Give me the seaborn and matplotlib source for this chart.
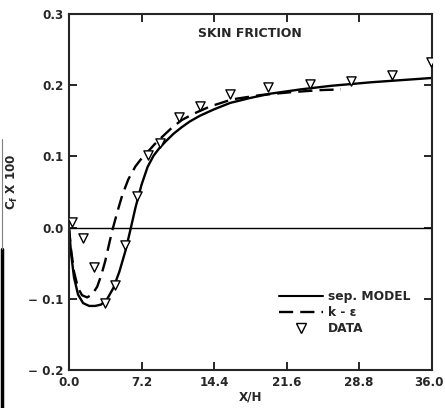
import numpy as np
import pandas as pd
import matplotlib
matplotlib.use("Agg")
import matplotlib.pyplot as plt
import matplotlib.transforms as mtransforms
from matplotlib.lines import Line2D
import seaborn as sns

# ---- data ----
sep_x = [0, 0.2, 0.5, 0.9, 1.4, 2.0, 2.6, 3.2, 3.8, 4.4, 5.0, 5.6, 6.1, 6.6,
         7.2, 7.8, 8.4, 9.0, 9.6, 10.4, 11.2, 12.0, 13.0, 14.4, 16.0, 18.0,
         20.0, 23.0, 26.0, 30.0, 33.0, 36.0]
sep_y = [0.0, -0.035, -0.070, -0.094, -0.106, -0.110, -0.110, -0.108, -0.100,
         -0.085, -0.062, -0.033, -0.003, 0.028, 0.060, 0.085, 0.101, 0.112,
         0.121, 0.132, 0.141, 0.149, 0.157, 0.166, 0.175, 0.182, 0.188, 0.194,
         0.199, 0.204, 0.207, 0.210]

keps_x = [0, 0.2, 0.5, 0.9, 1.3, 1.8, 2.3, 2.8, 3.2, 3.6, 4.0, 4.3, 4.8, 5.3,
          5.9, 6.6, 7.2, 7.8, 8.5, 9.3, 10.2, 11.2, 12.4, 14.0, 16.2, 19.0,
          22.0, 25.0, 27.0]
keps_y = [0.0, -0.03, -0.062, -0.085, -0.095, -0.098, -0.094, -0.083, -0.067,
          -0.047, -0.022, -0.004, 0.022, 0.046, 0.068, 0.086, 0.097, 0.106,
          0.117, 0.128, 0.140, 0.151, 0.160, 0.170, 0.180, 0.186, 0.190,
          0.193, 0.194]

data_x = [0.27, 1.4, 2.5, 3.6, 4.6, 5.6, 6.8, 7.8, 9.0, 10.9, 13.0, 16.0,
          19.8, 23.9, 28.0, 32.1, 35.9]
data_y = [0.008, -0.014, -0.056, -0.106, -0.081, -0.024, 0.045, 0.102, 0.119,
          0.155, 0.171, 0.188, 0.198, 0.202, 0.206, 0.214, 0.233]

xticks = [0.0, 7.2, 14.4, 21.6, 28.8, 36.0]
xtick_labels = ["0.0", "7.2", "14.4", "21.6", "28.8", "36.0"]
yticks = [-0.2, -0.1, 0.0, 0.1, 0.2, 0.3]
ytick_labels = ["\u2212 0.2", "\u2212 0.1", "0.0", "0.1", "0.2", "0.3"]

legend_labels = ["sep. MODEL", "k - \u03b5", "DATA"]

# ---- plot ----
sns.set_style("ticks")
plt.rcParams["font.family"] = ["DejaVu Sans"]
plt.rcParams["font.weight"] = "bold"
plt.rcParams["mathtext.default"] = "bf"

FS = 8.6

fig = plt.figure(figsize=(4.45, 4.08), dpi=100)
ax = fig.add_axes([0.155, 0.093, 0.815, 0.873])

sep_df = pd.DataFrame({"x": sep_x, "y": sep_y})
keps_df = pd.DataFrame({"x": keps_x, "y": keps_y})
data_df = pd.DataFrame({"x": data_x, "y": data_y})

ax.axhline(0.0, color="black", lw=1.0, zorder=1)
sns.lineplot(data=sep_df, x="x", y="y", ax=ax, color="black", lw=1.7,
             sort=False, estimator=None, legend=False)
sns.lineplot(data=keps_df, x="x", y="y", ax=ax, color="black", lw=1.7,
             sort=False, estimator=None, legend=False)
ax.lines[-1].set_dashes([6, 3])
sns.scatterplot(data=data_df, x="x", y="y", ax=ax, marker="v", s=44,
                facecolor="white", edgecolor="black", linewidth=1.0,
                zorder=5, legend=False)

ax.set_xlim(0, 36)
ax.set_ylim(-0.2, 0.3)
ax.set_xticks(xticks)
ax.set_xticklabels(xtick_labels, fontsize=FS, fontweight="bold")
ax.set_yticks(yticks)
ax.set_yticklabels(ytick_labels, fontsize=FS, fontweight="bold")
ax.tick_params(direction="in", length=6, width=1.4, top=True, right=True,
               pad=4)
for s in ax.spines.values():
    s.set_linewidth(1.5)
    s.set_visible(True)
# nudge the last x tick label so it stays inside the canvas
last = ax.get_xticklabels()[-1]
last.set_transform(last.get_transform() +
                   mtransforms.ScaledTranslation(-3 / 100, 0,
                                                 fig.dpi_scale_trans))

ax.set_xlabel("X/H", fontsize=FS, fontweight="bold", labelpad=1)
ax.set_ylabel(r"C$_f$ X 100", fontsize=FS, fontweight="bold")
ax.yaxis.set_label_coords(-0.135, 0.53)

ax.text(18.0, 0.273, "SKIN FRICTION", ha="center", va="center",
        fontsize=9, fontweight="bold")

handles = [
    Line2D([], [], color="black", lw=1.5),
    Line2D([], [], color="black", lw=1.7, dashes=[6, 3]),
    Line2D([], [], color="black", marker="v", ls="none", markersize=6.5,
           markerfacecolor="white", markeredgewidth=1.0),
]
leg = ax.legend(handles, legend_labels, loc="upper left",
                bbox_to_anchor=(0.565, 0.238), frameon=False,
                handlelength=3.6, handletextpad=0.4, labelspacing=0.25,
                prop={"weight": "bold", "size": 8.8}, borderaxespad=0)

# scan-edge artifact on the left
fig.add_artist(Line2D([0.004, 0.004], [0.0, 0.39], color="black", lw=2.5,
                      transform=fig.transFigure))
fig.add_artist(Line2D([0.004, 0.004], [0.39, 0.66], color="gray", lw=0.8,
                      transform=fig.transFigure))

fig.savefig("out.png", dpi=100)
